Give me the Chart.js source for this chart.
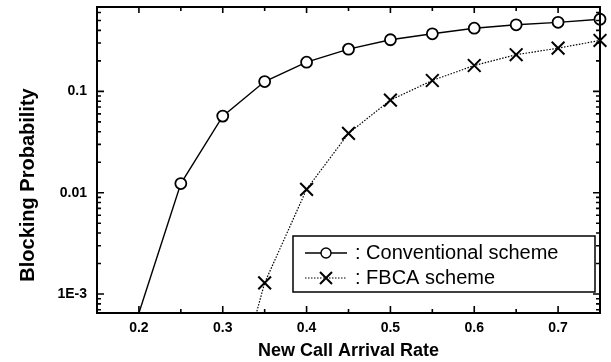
<!DOCTYPE html>
<html>
<head>
<meta charset="utf-8">
<script src="https://cdn.jsdelivr.net/npm/chart.js@4/dist/chart.umd.min.js"></script>
<style>
html,body{margin:0;padding:0;background:#fff;}
#wrap{width:611px;height:362px;}
canvas{display:block;}
</style>
</head>
<body>
<div id="wrap"><canvas id="c" width="611" height="362" style="width:611px;height:362px"></canvas></div>
<script>
// ---- data ----
const conventionalRates = [0.20, 0.25, 0.30, 0.35, 0.40, 0.45, 0.50, 0.55, 0.60, 0.65, 0.70, 0.75];
const conventionalBlocking = [0.00065, 0.0123, 0.057, 0.125, 0.194, 0.261, 0.323, 0.370, 0.420, 0.454, 0.480, 0.515];
const fbcaRates = [0.30, 0.35, 0.40, 0.45, 0.50, 0.55, 0.60, 0.65, 0.70, 0.75];
const fbcaBlocking = [0.00004, 0.00129, 0.0108, 0.0385, 0.082, 0.128, 0.180, 0.230, 0.267, 0.318];
const xTickValues = [0.2, 0.3, 0.4, 0.5, 0.6, 0.7];
const xMinorTickValues = [0.25, 0.35, 0.45, 0.55, 0.65];
const yTickValues = [0.001, 0.01, 0.1];
const yTickLabels = ['1E-3', '0.01', '0.1'];
const seriesNames = ['Conventional scheme', 'FBCA scheme'];
const xTitle = 'New Call Arrival Rate';
const yTitle = 'Blocking Probability';
const X_MIN = 0.15, X_MAX = 0.75;
const Y_MIN = 0.00065, Y_MAX = 0.68;

const FONT = '"Liberation Sans", Arial, Helvetica, sans-serif';
Chart.defaults.font.family = FONT;
Chart.defaults.color = '#000';

function toPoints(xs, ys){ return xs.map((v,i)=>({x:v, y:ys[i]})); }

const yMinorTicks = [];
for (let d = 0.0001; d < 1; d *= 10) {
  for (let k = 2; k <= 9; k++) {
    const v = +(k*d).toPrecision(3);
    if (v > Y_MIN && v < Y_MAX) yMinorTicks.push(v);
  }
}

const framePlugin = {
  id: 'frame',
  afterDatasetsDraw(chart){
    const {ctx, chartArea:a, scales:{x, y}} = chart;
    ctx.save();
    ctx.strokeStyle = '#000';
    ctx.fillStyle = '#000';
    // inward tick marks on all four sides
    ctx.lineWidth = 1.6;
    ctx.beginPath();
    xTickValues.forEach(v=>{
      const px = x.getPixelForValue(v);
      ctx.moveTo(px, a.bottom); ctx.lineTo(px, a.bottom-7);
      ctx.moveTo(px, a.top); ctx.lineTo(px, a.top+6);
    });
    xMinorTickValues.forEach(v=>{
      const px = x.getPixelForValue(v);
      ctx.moveTo(px, a.bottom); ctx.lineTo(px, a.bottom-4);
      ctx.moveTo(px, a.top); ctx.lineTo(px, a.top+4);
    });
    yTickValues.forEach(v=>{
      const py = y.getPixelForValue(v);
      ctx.moveTo(a.left, py); ctx.lineTo(a.left+7, py);
      ctx.moveTo(a.right, py); ctx.lineTo(a.right-7, py);
    });
    yMinorTicks.forEach(v=>{
      const py = y.getPixelForValue(v);
      ctx.moveTo(a.left, py); ctx.lineTo(a.left+4, py);
      ctx.moveTo(a.right, py); ctx.lineTo(a.right-4, py);
    });
    ctx.stroke();
    // frame
    ctx.lineWidth = 2;
    ctx.strokeRect(a.left, a.top, a.right-a.left, a.bottom-a.top);

    // legend box
    const bx = 293, by = 236, bw = 302, bh = 56;
    ctx.fillStyle = '#fff';
    ctx.fillRect(bx, by, bw, bh);
    ctx.lineWidth = 1.5;
    ctx.strokeRect(bx, by, bw, bh);
    const rows = [253, 278];
    // row 1: solid line with circle
    ctx.lineWidth = 1.4;
    ctx.setLineDash([]);
    ctx.beginPath(); ctx.moveTo(305, rows[0]); ctx.lineTo(347, rows[0]); ctx.stroke();
    ctx.fillStyle = '#fff';
    ctx.beginPath(); ctx.arc(326, rows[0], 5, 0, Math.PI*2); ctx.fill(); ctx.stroke();
    // row 2: dotted line with cross
    ctx.lineWidth = 1.2;
    ctx.setLineDash([1.5, 1.5]);
    ctx.beginPath(); ctx.moveTo(305, rows[1]); ctx.lineTo(347, rows[1]); ctx.stroke();
    ctx.setLineDash([]);
    ctx.lineWidth = 2;
    ctx.beginPath();
    ctx.moveTo(320, rows[1]-6); ctx.lineTo(332, rows[1]+6);
    ctx.moveTo(332, rows[1]-6); ctx.lineTo(320, rows[1]+6);
    ctx.stroke();
    ctx.fillStyle = '#000';
    ctx.font = '20px ' + FONT;
    ctx.textAlign = 'left';
    ctx.textBaseline = 'middle';
    ctx.fillText(': ' + seriesNames[0], 355, rows[0]);
    ctx.fillText(': ' + seriesNames[1], 355, rows[1]);

    // axis titles
    ctx.font = 'bold 18px ' + FONT;
    ctx.textAlign = 'center';
    ctx.fillText(xTitle, (a.left+a.right)/2, 351);
    ctx.save();
    ctx.translate(28, 185);
    ctx.rotate(-Math.PI/2);
    ctx.font = 'bold 20px ' + FONT;
    ctx.fillText(yTitle, 0, 0);
    ctx.restore();
    ctx.restore();
  }
};

new Chart(document.getElementById('c'), {
  type: 'line',
  data: {
    datasets: [
      {
        label: seriesNames[0],
        data: toPoints(conventionalRates, conventionalBlocking),
        borderColor: '#000',
        borderWidth: 1.4,
        backgroundColor: '#fff',
        pointStyle: 'circle',
        pointRadius: c => (c.raw && c.raw.y <= Y_MIN*1.001 ? 0 : 5.5),
        pointBorderWidth: 1.8,
        pointBorderColor: '#000',
        pointBackgroundColor: '#fff',
        tension: 0,
        clip: {left: 0, top: 10, right: 10, bottom: 0}
      },
      {
        label: seriesNames[1],
        data: toPoints(fbcaRates, fbcaBlocking),
        borderColor: '#000',
        borderWidth: 1.2,
        borderDash: [1.5, 1.5],
        pointStyle: 'crossRot',
        pointRadius: c => (c.raw && c.raw.y < Y_MIN ? 0 : 9),
        pointBorderWidth: 2,
        pointBorderColor: '#000',
        tension: 0,
        clip: {left: 0, top: 10, right: 10, bottom: 0}
      }
    ]
  },
  options: {
    responsive: false,
    animation: false,
    maintainAspectRatio: false,
    devicePixelRatio: 1,
    layout: {autoPadding: false, padding: {left: 0, top: 7, right: 11, bottom: 0}},
    plugins: {legend: {display: false}, tooltip: {enabled: false}},
    scales: {
      x: {
        type: 'linear',
        min: X_MIN, max: X_MAX,
        grid: {display: false, drawTicks: false},
        border: {display: false},
        afterBuildTicks: s => { s.ticks = xTickValues.map(v=>({value:v})); },
        ticks: {
          padding: 7,
          font: {size: 14, weight: 'bold'},
          callback: v => Number(v).toFixed(1)
        },
        afterFit: s => { s.height = 49; s.paddingLeft = 0; s.paddingRight = 0; }
      },
      y: {
        type: 'logarithmic',
        min: Y_MIN, max: Y_MAX,
        grid: {display: false, drawTicks: false},
        border: {display: false},
        afterBuildTicks: s => { s.ticks = yTickValues.map(v=>({value:v})); },
        ticks: {
          padding: 10,
          font: {size: 14, weight: 'bold'},
          callback: v => { const i = yTickValues.findIndex(t => Math.abs(t - v) / t < 1e-6); return i >= 0 ? yTickLabels[i] : ''; }
        },
        afterFit: s => { s.width = 97; s.paddingTop = 0; s.paddingBottom = 0; }
      }
    }
  },
  plugins: [framePlugin]
});
</script>
</body>
</html>
